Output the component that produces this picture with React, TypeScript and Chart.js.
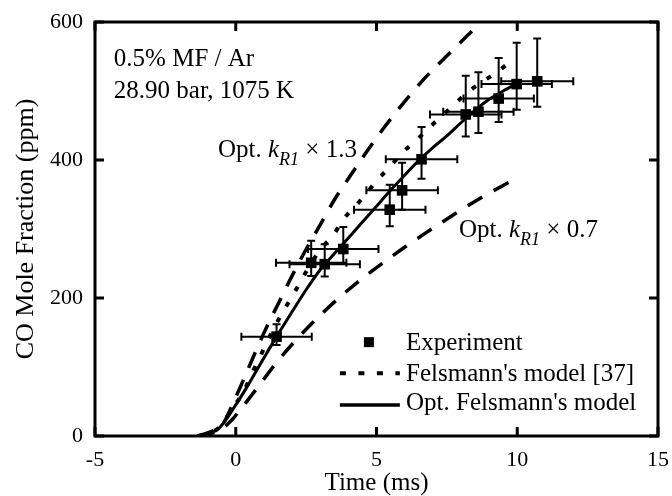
import React, { useEffect, useRef } from "react";
import { Chart, registerables } from "chart.js";
Chart.register(...registerables);

const FONT = "'Liberation Serif', 'Times New Roman', Times, serif";

// Experiment
const expTime = [1.45, 2.68, 3.16, 3.82, 5.47, 5.91, 6.6, 8.17, 8.62, 9.34, 9.98, 10.71];
const expCO = [144, 251, 249, 271, 328, 356, 401, 466, 470, 489, 510, 514];
const expTimeErr = [1.25, 1.25, 1.25, 1.25, 1.27, 1.27, 1.27, 1.27, 1.25, 1.25, 1.25, 1.28];
const expErrUp = [18, 32, 29, 32, 36, 40, 47, 56, 57, 59, 60, 62];
const expErrDown = [12, 19, 18, 21, 24, 28, 28, 32, 31, 34, 37, 37];

// Felsmann's model [37]
const felsTime = [-1.35, -1.0, -0.6, -0.15, 0.3, 0.6, 0.9, 1.3, 1.75, 2.1, 2.5, 3.0, 3.5, 3.8, 4.25, 4.65, 5.05, 5.5, 5.9, 6.4, 6.85, 7.3, 7.75, 8.2, 8.75, 9.3, 9.8];
const felsCO = [0, 3, 12, 38, 66, 93, 118, 152, 185, 209, 238, 270, 293, 313, 333, 352, 372, 391, 410, 428, 446, 463, 480, 497, 513, 528, 544];

// Opt. Felsmann's model
const optTime = [-1.35, -1.0, -0.6, 0.0, 0.5, 1.0, 1.45, 2.0, 2.5, 3.0, 3.5, 4.0, 4.5, 5.0, 5.5, 6.0, 6.5, 7.0, 7.5, 8.0, 8.5, 9.0, 9.5, 10.0];
const optCO = [0, 3, 11, 45, 78, 113, 144, 180, 212, 241, 264, 287, 310, 333, 356, 378, 399, 418, 435, 454, 472, 488, 500, 511];

// Opt. kR1 x 1.3
const hiTime = [-1.35, -0.9, -0.45, -0.1, 0.27, 0.68, 1.1, 1.55, 2.0, 2.6, 3.0, 3.5, 4.05, 4.65, 5.25, 6.05, 6.7, 7.35, 8.4];
const hiCO = [0, 6, 18, 47, 81, 120, 158, 195, 232, 278, 306, 342, 376, 412, 446, 487, 518, 545, 587];

// Opt. kR1 x 0.7
const loTime = [-1.35, -0.9, -0.5, -0.1, 0.1, 0.75, 1.4, 2.05, 2.8, 3.5, 4.3, 5.1, 6.05, 6.85, 7.75, 8.7, 9.85];
const loCO = [0, 3, 10, 25, 35, 69, 104, 135, 167, 194, 222, 247, 275, 297, 321, 345, 371];

const xTickValues = [-5, 0, 5, 10, 15];
const yTickValues = [0, 200, 400, 600];

const legendLabels = ["Experiment", "Felsmann's model [37]", "Opt. Felsmann's model"];
const conditionLines = ["0.5% MF / Ar", "28.90 bar, 1075 K"];

const toXY = (xs: number[], ys: number[]) => xs.map((x, i) => ({ x, y: ys[i] }));

const errorBarPlugin = {
  id: "errorBars",
  beforeDatasetsDraw(chart: any) {
    const { ctx, scales } = chart;
    const x = scales.x, y = scales.y;
    ctx.save();
    ctx.strokeStyle = "#000";
    ctx.lineWidth = 2;
    const cap = 4;
    for (let i = 0; i < expTime.length; i++) {
      const px = x.getPixelForValue(expTime[i]);
      const py = y.getPixelForValue(expCO[i]);
      const xl = x.getPixelForValue(expTime[i] - expTimeErr[i]);
      const xr = x.getPixelForValue(expTime[i] + expTimeErr[i]);
      const yt = y.getPixelForValue(expCO[i] + expErrUp[i]);
      const yb = y.getPixelForValue(expCO[i] - expErrDown[i]);
      ctx.beginPath();
      ctx.moveTo(xl, py); ctx.lineTo(xr, py);
      ctx.moveTo(xl, py - cap); ctx.lineTo(xl, py + cap);
      ctx.moveTo(xr, py - cap); ctx.lineTo(xr, py + cap);
      ctx.moveTo(px, yt); ctx.lineTo(px, yb);
      ctx.moveTo(px - cap, yt); ctx.lineTo(px + cap, yt);
      ctx.moveTo(px - cap, yb); ctx.lineTo(px + cap, yb);
      ctx.stroke();
    }
    ctx.restore();
  },
};

function drawKLabel(ctx: CanvasRenderingContext2D, x0: number, y0: number, factor: string) {
  let cx = x0;
  ctx.font = `25px ${FONT}`;
  ctx.fillText("Opt. ", cx, y0);
  cx += ctx.measureText("Opt. ").width;
  ctx.font = `italic 25px ${FONT}`;
  ctx.fillText("k", cx, y0);
  cx += ctx.measureText("k").width;
  ctx.font = `italic 18px ${FONT}`;
  ctx.fillText("R1", cx, y0 + 8);
  cx += ctx.measureText("R1").width;
  ctx.font = `25px ${FONT}`;
  ctx.fillText(" \u00d7 " + factor, cx, y0);
}

const decorPlugin = {
  id: "decor",
  afterDraw(chart: any) {
    const { ctx, chartArea, scales } = chart;
    const x = scales.x, y = scales.y;
    const { left, right, top, bottom } = chartArea;
    ctx.save();
    ctx.setLineDash([]);
    ctx.strokeStyle = "#000";
    ctx.fillStyle = "#000";
    ctx.lineWidth = 3;
    ctx.beginPath();
    ctx.rect(left, top, right - left, bottom - top);
    ctx.stroke();
    const tl = 9;
    ctx.beginPath();
    for (const v of xTickValues) {
      const px = x.getPixelForValue(v);
      ctx.moveTo(px, bottom); ctx.lineTo(px, bottom - tl);
      ctx.moveTo(px, top); ctx.lineTo(px, top + tl);
    }
    for (const v of yTickValues) {
      const py = y.getPixelForValue(v);
      ctx.moveTo(left, py); ctx.lineTo(left + tl, py);
      ctx.moveTo(right, py); ctx.lineTo(right - tl, py);
    }
    ctx.stroke();

    // conditions text
    ctx.textBaseline = "alphabetic";
    ctx.textAlign = "left";
    ctx.font = `25px ${FONT}`;
    ctx.fillText(conditionLines[0], x.getPixelForValue(-4.33), y.getPixelForValue(536));
    ctx.fillText(conditionLines[1], x.getPixelForValue(-4.33), y.getPixelForValue(490));

    drawKLabel(ctx, x.getPixelForValue(-0.63), y.getPixelForValue(404), "1.3");
    drawKLabel(ctx, x.getPixelForValue(7.93), y.getPixelForValue(289), "0.7");

    // legend
    const lx0 = x.getPixelForValue(3.7);
    const lx1 = x.getPixelForValue(5.83);
    const tx = x.getPixelForValue(6.05);
    const sq = x.getPixelForValue(4.73);
    const y1 = y.getPixelForValue(136);
    ctx.fillRect(sq - 5, y1 - 5, 10, 10);
    const y2 = y.getPixelForValue(91);
    ctx.save();
    ctx.lineWidth = 4;
    ctx.setLineDash([6, 12.5]);
    ctx.beginPath(); ctx.moveTo(lx0, y2); ctx.lineTo(lx1, y2); ctx.stroke();
    ctx.restore();
    const y3 = y.getPixelForValue(45);
    ctx.lineWidth = 3.5;
    ctx.beginPath(); ctx.moveTo(lx0, y3); ctx.lineTo(lx1, y3); ctx.stroke();
    ctx.font = `25px ${FONT}`;
    ctx.fillText(legendLabels[0], tx, y.getPixelForValue(125));
    ctx.fillText(legendLabels[1], tx, y.getPixelForValue(80));
    ctx.fillText(legendLabels[2], tx, y.getPixelForValue(38));
    ctx.restore();
  },
};

export default function App() {
  const ref = useRef<HTMLCanvasElement>(null);
  useEffect(() => {
    document.body.style.margin = "0";
    const canvas = ref.current!;
    const lineBase = {
      type: "scatter" as const,
      showLine: true,
      pointRadius: 0,
      borderColor: "#000",
      backgroundColor: "#000",
      cubicInterpolationMode: "monotone" as const,
      borderCapStyle: "butt" as const,
    };
    const chart = new Chart(canvas, {
      type: "scatter",
      data: {
        datasets: [
          {
            label: legendLabels[0],
            data: toXY(expTime, expCO),
            pointStyle: "rect",
            pointRadius: 7.5,
            pointBackgroundColor: "#000",
            pointBorderColor: "#000",
            pointBorderWidth: 0,
            showLine: false,
          },
          { ...lineBase, label: legendLabels[2], data: toXY(optTime, optCO), borderWidth: 3 },
          { ...lineBase, label: legendLabels[1], data: toXY(felsTime, felsCO), borderWidth: 4, borderDash: [5, 13] },
          { ...lineBase, label: "Opt. kR1 x 1.3", data: toXY(hiTime, hiCO), borderWidth: 3.5, borderDash: [17, 13] },
          { ...lineBase, label: "Opt. kR1 x 0.7", data: toXY(loTime, loCO), borderWidth: 3.5, borderDash: [17, 13] },
        ] as any,
      },
      options: {
        responsive: false,
        animation: false,
        devicePixelRatio: 1,
        layout: { padding: { left: 0, right: 14, top: 22, bottom: 0 } },
        plugins: { legend: { display: false }, tooltip: { enabled: false } },
        scales: {
          x: {
            type: "linear",
            min: -5,
            max: 15,
            grid: { display: false },
            border: { display: false },
            ticks: { stepSize: 5, color: "#000", font: { family: FONT, size: 22 }, padding: 3, maxRotation: 0 },
            title: { display: true, text: "Time (ms)", color: "#000", font: { family: FONT, size: 25, lineHeight: 1 }, padding: { top: 0, bottom: 0 } },
            afterFit: (s: any) => { s.height = 60; s.paddingLeft = 0; s.paddingRight = 0; },
          },
          y: {
            type: "linear",
            min: 0,
            max: 600,
            grid: { display: false },
            border: { display: false },
            ticks: { stepSize: 200, color: "#000", font: { family: FONT, size: 22 }, padding: 4 },
            title: { display: true, text: "CO Mole Fraction (ppm)", color: "#000", font: { family: FONT, size: 26, lineHeight: 1 }, padding: { top: 13, bottom: 0 } },
            afterFit: (s: any) => { s.width = 95; s.paddingTop = 0; s.paddingBottom = 0; },
          },
        },
      } as any,
      plugins: [errorBarPlugin, decorPlugin],
    });
    return () => chart.destroy();
  }, []);
  return (
    <div style={{ width: 672, height: 496, position: "relative" }}>
      <canvas ref={ref} width={672} height={496} style={{ display: "block" }} />
    </div>
  );
}
